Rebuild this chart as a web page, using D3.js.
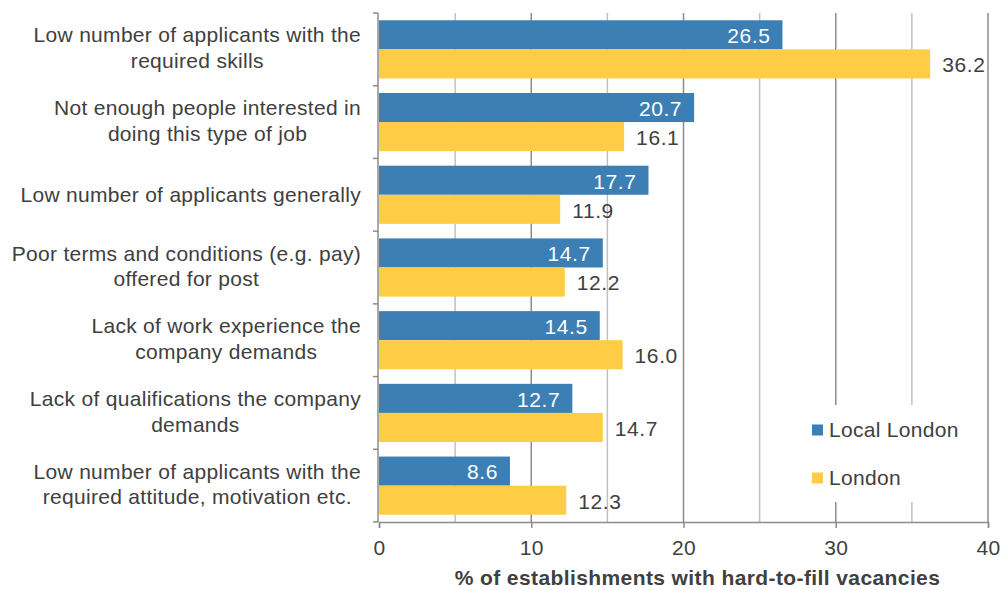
<!DOCTYPE html>
<html><head><meta charset="utf-8">
<script src="https://cdn.jsdelivr.net/npm/d3@7"></script>
<style>
body{margin:0;background:#fff;}
text{font-family:"Liberation Sans",Arial,sans-serif;}
</style></head>
<body><svg id="c" width="1003" height="590"></svg>
<script>
const categories = [
  ["Low number of applicants with the","required skills"],
  ["Not enough people interested in","doing this type of job"],
  ["Low number of applicants generally"],
  ["Poor terms and conditions (e.g. pay)","offered for post"],
  ["Lack of work experience the","company demands"],
  ["Lack of qualifications the company","demands"],
  ["Low number of applicants with the","required attitude, motivation etc."]
];
const seriesNames = ["Local London","London"];
const localLondon = [26.5,20.7,17.7,14.7,14.5,12.7,8.6];
const london = [36.2,16.1,11.9,12.2,16.0,14.7,12.3];
const xTicks = [0,10,20,30,40];
const gridTicks = [5,10,15,20,25,30,35,40];
const axisTitle = "% of establishments with hard-to-fill vacancies";
const colors = ["#3b7fb4","#fecd45"];

const svg = d3.select("#c");
const m = {l:379, t:13, r:15, b:68};
const W = 1003 - m.l - m.r, H = 590 - m.t - m.b;
const g = svg.append("g").attr("transform",`translate(${m.l},${m.t})`);
const x = d3.scaleLinear().domain([0,40]).range([0,W]);
const idx = d3.range(categories.length);
const y0 = d3.scaleBand().domain(idx).range([0,H]).paddingInner(0.2).paddingOuter(0.1);
const y1 = d3.scaleBand().domain([0,1]).range([0,y0.bandwidth()]);
const txt = "#404040";
const FS = "21px", LS = "0.3px";

// gridlines
g.selectAll(".grid").data(gridTicks).join("line")
  .attr("x1",d=>x(d)).attr("x2",d=>x(d)).attr("y1",0).attr("y2",H)
  .attr("stroke",d=>d%10===0?"#8c8c8c":"#c0c0c0").attr("stroke-width",1.5);

// legend background
const lg = g.append("g").attr("transform",`translate(${795-m.l},${405-m.t})`);
lg.append("rect").attr("x",0).attr("y",0).attr("width",187).attr("height",97).attr("fill","#fff");

// bars
const data = idx.map(i=>({i, vals:[localLondon[i], london[i]]}));
const grp = g.selectAll(".cat").data(data).join("g").attr("transform",d=>`translate(0,${y0(d.i)})`);
grp.selectAll("rect").data(d=>d.vals.map((v,s)=>({v,s}))).join("rect")
  .attr("x",0).attr("y",d=>y1(d.s)).attr("width",d=>x(d.v)).attr("height",y1.bandwidth())
  .attr("fill",d=>colors[d.s]);
grp.selectAll(".val").data(d=>d.vals.map((v,s)=>({v,s}))).join("text")
  .attr("x",d=>d.s===0? x(d.v)-12 : x(d.v)+12)
  .attr("y",d=>y1(d.s)+y1.bandwidth()/2+1)
  .attr("dy","0.35em")
  .attr("text-anchor",d=>d.s===0?"end":"start")
  .attr("fill",d=>d.s===0?"#fff":txt)
  .style("font-size",FS).style("letter-spacing","0.6px")
  .text(d=>d.v.toFixed(1));

// y axis line and ticks
g.append("line").attr("x1",-1).attr("x2",-1).attr("y1",0).attr("y2",H).attr("stroke","#8c8c8c").attr("stroke-width",1.5);
g.selectAll(".yt").data(d3.range(categories.length+1)).join("line")
  .attr("x1",-6).attr("x2",-1).attr("y1",d=>d*y0.step()).attr("y2",d=>d*y0.step())
  .attr("stroke","#8c8c8c").attr("stroke-width",1.5);

// x axis
const xa = g.append("g").attr("transform",`translate(0,${H})`)
  .call(d3.axisBottom(x).tickValues(xTicks).tickSize(6).tickPadding(12).tickFormat(d3.format("d")));
xa.select(".domain").attr("stroke","#8c8c8c").attr("stroke-width",1.5);
xa.selectAll(".tick line").attr("stroke","#8c8c8c").attr("stroke-width",1.5);
xa.selectAll(".tick text").attr("fill",txt).style("font-size",FS).style("letter-spacing",LS).style("font-family","Liberation Sans, Arial, sans-serif");

// axis title
g.append("text").attr("x",(x(0)+x(40))/2+14).attr("y",H+63).attr("text-anchor","middle")
  .attr("fill",txt).style("font-size",FS).style("letter-spacing","0.4px").style("font-weight","bold").text(axisTitle);

// category labels
const labelRight = -18;
categories.forEach((lines,i)=>{
  const n = lines.length, lh = 25.5;
  const cy = y0(i)+y0.bandwidth()/2 + (n>1?-1.5:0);
  const t = g.append("text").attr("fill",txt).style("font-size",FS).style("letter-spacing",LS);
  const spans = lines.map((l,k)=>t.append("tspan").text(l));
  const widths = spans.map(s=>s.node().getComputedTextLength());
  const mw = d3.max(widths);
  const cx = labelRight - mw/2;
  spans.forEach((s,k)=>{
    s.attr("x",cx).attr("text-anchor","middle").attr("y",cy + (k-(n-1)/2)*lh).attr("dy","0.35em");
  });
});

// legend
seriesNames.forEach((nm,k)=>{
  const yy = 25 + k*48;
  lg.append("rect").attr("x",17).attr("y",yy-5.5).attr("width",11).attr("height",11).attr("fill",colors[k]);
  lg.append("text").attr("x",34).attr("y",yy).attr("dy","0.35em").attr("fill",txt).style("font-size",FS).style("letter-spacing",LS).text(nm);
});
</script></body></html>
